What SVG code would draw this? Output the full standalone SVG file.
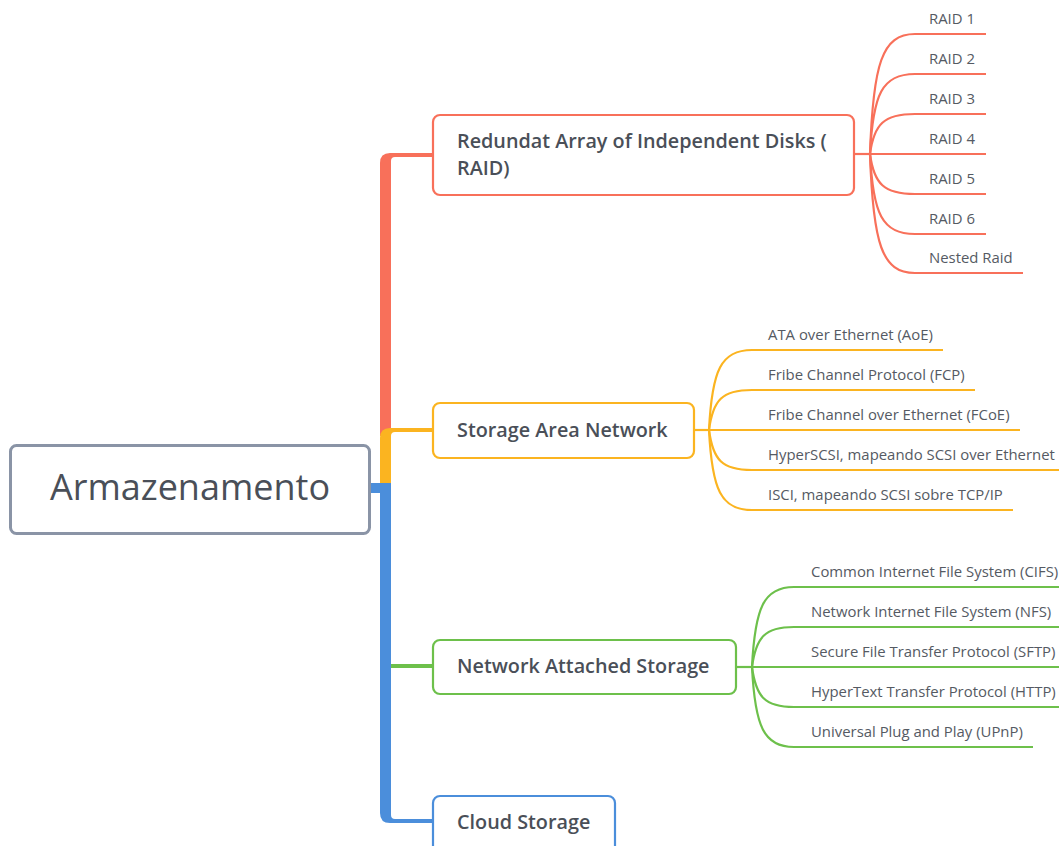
<svg xmlns="http://www.w3.org/2000/svg" width="1059" height="846" viewBox="0 0 1059 846">
<style>
  .box{fill:#ffffff;stroke-width:2.2}
  .root{stroke:#8a94a6;stroke-width:3}
  .red{stroke:#f8705a}
  .org{stroke:#fbb420}
  .grn{stroke:#6dc04b}
  .blu{stroke:#4b8edb}
  .ln{fill:none;stroke-width:2.2}
  .t-root{font-family:"Open Sans","Liberation Sans",sans-serif;font-size:36px;fill:#4a4f58}
  .t-br{font-family:"Open Sans","Liberation Sans",sans-serif;font-size:19.8px;font-weight:600;fill:#4a4f58}
  .t-lf{font-family:"Open Sans","Liberation Sans",sans-serif;font-size:14.9px;fill:#555a63}
</style>
<rect width="1059" height="846" fill="#ffffff"/>

<g id="connectors">
  <!-- trunk -->
  <path d="M380,436 V163 Q380,153 390,153 H433 V157 H395 Q391,157 391,161 V436 Z" fill="#f8705a"/>
  <path d="M380,484 V438 Q380,428 390,428 H433 V432 H395 Q391,432 391,436 V484 Z" fill="#fbb420"/>
  <path d="M380,483 V813 Q380,823 390,823 H433 V819 H395 Q391,819 391,815 V483 Z" fill="#4b8edb"/>
  <rect x="369" y="483" width="20" height="10" fill="#4b8edb"/>
  <path d="M391,664 H433 V668 H391 Z" fill="#6dc04b"/>

  <!-- RAID leaves -->
  <g class="ln red">
    <path d="M854,154 H870"/>
    <path d="M870,154 C873,64 882,34 915,34 H986"/>
    <path d="M870,154 C873,94 882,74 915,74 H986"/>
    <path d="M870,154 C874,124 884,114 915,114 H986"/>
    <path d="M870,154 H986"/>
    <path d="M870,154 C874,184 884,194 915,194 H986"/>
    <path d="M870,154 C873,214 882,234 915,234 H986"/>
    <path d="M870,154 C873,244 882,273 915,273 H1023"/>
  </g>
  <!-- SAN leaves -->
  <g class="ln org">
    <path d="M694,430 H709"/>
    <path d="M709,430 C712,370 721,350 752,350 H943"/>
    <path d="M709,430 C713,400 722,390 752,390 H975"/>
    <path d="M709,430 H1020"/>
    <path d="M709,430 C713,460 722,470 752,470 H1070"/>
    <path d="M709,430 C712,490 721,510 752,510 H1013"/>
  </g>
  <!-- NAS leaves -->
  <g class="ln grn">
    <path d="M736,667 H752"/>
    <path d="M752,667 C755,607 764,587 794,587 H1070"/>
    <path d="M752,667 C756,637 765,627 794,627 H1070"/>
    <path d="M752,667 H1070"/>
    <path d="M752,667 C756,697 765,707 794,707 H1070"/>
    <path d="M752,667 C755,727 764,747 794,747 H1033"/>
  </g>
</g>

<g id="root">
  <rect class="box root" x="10.5" y="445.5" width="359" height="88" rx="6"/>
  <text class="t-root" x="190" y="500" text-anchor="middle">Armazenamento</text>
</g>

<g id="raid">
  <rect class="box red" x="433" y="115" width="421" height="80" rx="7"/>
  <text class="t-br" x="457" y="148">Redundat Array of Independent Disks (</text>
  <text class="t-br" x="457" y="175">RAID)</text>
</g>
<g id="raid-leaves" class="t-lf">
  <text x="929" y="24">RAID 1</text>
  <text x="929" y="64">RAID 2</text>
  <text x="929" y="104">RAID 3</text>
  <text x="929" y="144">RAID 4</text>
  <text x="929" y="184">RAID 5</text>
  <text x="929" y="224">RAID 6</text>
  <text x="929" y="263">Nested Raid</text>
</g>

<g id="san">
  <rect class="box org" x="433" y="403" width="261" height="55" rx="7"/>
  <text class="t-br" x="457" y="437">Storage Area Network</text>
</g>
<g id="san-leaves" class="t-lf">
  <text x="768" y="340">ATA over Ethernet (AoE)</text>
  <text x="768" y="380">Fribe Channel Protocol (FCP)</text>
  <text x="768" y="420">Fribe Channel over Ethernet (FCoE)</text>
  <text x="768" y="460">HyperSCSI, mapeando SCSI over Ethernet</text>
  <text x="768" y="500">ISCI, mapeando SCSI sobre TCP/IP</text>
</g>

<g id="nas">
  <rect class="box grn" x="433" y="640" width="303" height="54" rx="7"/>
  <text class="t-br" x="457" y="673">Network Attached Storage</text>
</g>
<g id="nas-leaves" class="t-lf">
  <text x="811" y="577">Common Internet File System (CIFS)</text>
  <text x="811" y="617">Network Internet File System (NFS)</text>
  <text x="811" y="657">Secure File Transfer Protocol (SFTP)</text>
  <text x="811" y="697">HyperText Transfer Protocol (HTTP)</text>
  <text x="811" y="737">Universal Plug and Play (UPnP)</text>
</g>

<g id="cloud">
  <rect class="box blu" x="433" y="796" width="182" height="60" rx="7"/>
  <text class="t-br" x="457" y="829">Cloud Storage</text>
</g>
</svg>
